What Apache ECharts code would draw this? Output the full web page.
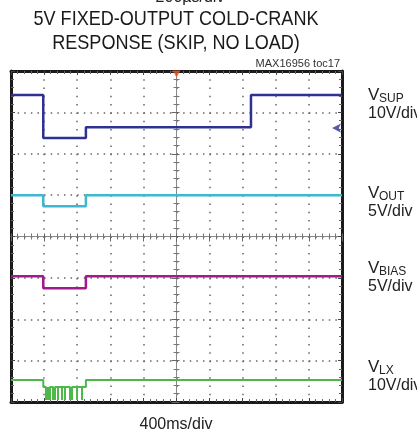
<!DOCTYPE html>
<html>
<head>
<meta charset="utf-8">
<title>MAX16956 toc17</title>
<script src="https://cdn.jsdelivr.net/npm/echarts@6/dist/echarts.min.js"></script>
<style>
  html, body { margin: 0; padding: 0; background: #fff; }
  #chart { width: 417px; height: 436px; }
</style>
</head>
<body>
<div id="chart"></div>
<script>
  // time in ms (400ms/div, 10 div), level in divisions from bottom (8 div)
  var vsupT   = [0, 390, 390, 905, 905, 2900, 2900, 4000];
  var vsupDiv = [7.42, 7.42, 6.38, 6.38, 6.64, 6.64, 7.42, 7.42];

  var voutT   = [0, 390, 390, 905, 905, 4000];
  var voutDiv = [5.0, 5.0, 4.73, 4.73, 5.0, 5.0];

  var vbiasT   = [0, 390, 390, 905, 905, 4000];
  var vbiasDiv = [3.04, 3.04, 2.75, 2.75, 3.04, 3.04];

  var vlxT   = [0, 390, 390, 905, 905, 4000];
  var vlxDiv = [0.53, 0.53, 0.36, 0.36, 0.53, 0.53];
  // switching pulses during the dip
  var vlxSpikeT = [423, 447, 471, 508, 532, 568, 616, 653, 713, 737, 798, 858];
  var vlxSpikeBottom = 0.05;

  var rightLabels = [
    { name: 'V', sub: 'SUP', scale: '10V/div', y: 95 },
    { name: 'V', sub: 'OUT', scale: '5V/div', y: 193 },
    { name: 'V', sub: 'BIAS', scale: '5V/div', y: 268 },
    { name: 'V', sub: 'LX', scale: '10V/div', y: 367 }
  ];

  var FONT = '"Liberation Sans", Arial, sans-serif';

  function pairs(t, v) {
    var out = [];
    for (var i = 0; i < t.length; i++) out.push([t[i], v[i]]);
    return out;
  }

  var vlxData = [];
  vlxSpikeT.forEach(function (t) {
    vlxData.push([t, vlxDiv[2]]);
    vlxData.push([t, vlxSpikeBottom]);
    vlxData.push([t, vlxDiv[2]]);
  });
  var vlxLine = pairs(vlxT, vlxDiv);
  // merge spikes into the low segment
  var vlxAll = vlxLine.slice(0, 3).concat(vlxData).concat(vlxLine.slice(3));

  var gridW = 331, gridH = 331;

  var graphic = [
    { type: 'text', x: 190, y: -2, style: { text: '200\u00b5s/div', font: '16px ' + FONT, fill: '#222', align: 'center', verticalAlign: 'middle' } },
    { type: 'text', x: 176, y: 19, scaleX: 0.86, style: { text: '5V FIXED-OUTPUT COLD-CRANK', font: '21px ' + FONT, fill: '#1a1a1a', align: 'center', verticalAlign: 'middle' } },
    { type: 'text', x: 176, y: 43, scaleX: 0.86, style: { text: 'RESPONSE (SKIP, NO LOAD)', font: '21px ' + FONT, fill: '#1a1a1a', align: 'center', verticalAlign: 'middle' } },
    { type: 'text', x: 340, y: 64, style: { text: 'MAX16956 toc17', font: '11px ' + FONT, fill: '#333', align: 'right', verticalAlign: 'middle' } },
    { type: 'text', x: 176, y: 425, style: { text: '400ms/div', font: '16px ' + FONT, fill: '#222', align: 'center', verticalAlign: 'middle' } }
  ];
  rightLabels.forEach(function (l) {
    graphic.push({ type: 'text', x: 368, y: l.y, style: { text: l.name, font: '17px ' + FONT, fill: '#222', align: 'left', verticalAlign: 'middle' } });
    graphic.push({ type: 'text', x: 379, y: l.y + 4, style: { text: l.sub, font: '12px ' + FONT, fill: '#222', align: 'left', verticalAlign: 'middle' } });
    graphic.push({ type: 'text', x: 368, y: l.y + 19, style: { text: l.scale, font: '16px ' + FONT, fill: '#222', align: 'left', verticalAlign: 'middle' } });
  });

  function borderAxis(pos, isX) {
    return {
      type: 'value', position: pos, min: 0, max: isX ? 4000 : 8, interval: isX ? 400 : 1,
      axisLine: { show: true, onZero: false, lineStyle: { color: '#1a1a1a', width: 3 } },
      axisTick: { show: true, inside: true, length: 4, lineStyle: { color: '#444', width: 1 } },
      minorTick: { show: true, splitNumber: 5, length: 3, lineStyle: { color: '#666', width: 1 } },
      axisLabel: { show: false },
      splitLine: { show: false }
    };
  }

  var xMain = borderAxis('bottom', true);
  xMain.splitLine = { show: true, lineStyle: { color: '#666', width: 1.5, type: [1.5, gridH / 40 - 1.5] } };
  var yMain = borderAxis('left', false);
  yMain.splitLine = { show: true, lineStyle: { color: '#666', width: 1.5, type: [1.5, gridW / 50 - 1.5] } };

  // centre cross lines with tick marks
  function centreLine(pos, isX, off) {
    return {
      type: 'value', position: pos, offset: off, min: 0, max: isX ? 4000 : 8, interval: isX ? 400 : 1,
      axisLine: { show: true, onZero: false, lineStyle: { color: '#888', width: 1 } },
      axisTick: { show: false }, axisLabel: { show: false }, splitLine: { show: false }
    };
  }
  function centreTicks(pos, isX, off) {
    return {
      type: 'value', position: pos, offset: off, min: 0, max: isX ? 4000 : 8, interval: isX ? 400 : 1,
      axisLine: { show: false, onZero: false },
      axisTick: { show: true, length: 8, lineStyle: { color: '#666', width: 1 } },
      minorTick: { show: true, splitNumber: 5, length: 6, lineStyle: { color: '#777', width: 1 } },
      axisLabel: { show: false }, splitLine: { show: false }
    };
  }

  var option = {
    animation: false,
    backgroundColor: '#fff',
    graphic: graphic,
    grid: { left: 11, top: 71, width: gridW, height: gridH },
    xAxis: [
      xMain,
      borderAxis('top', true),
      centreLine('bottom', true, -gridH / 2),
      centreTicks('bottom', true, -gridH / 2 - 3)
    ],
    yAxis: [
      yMain,
      borderAxis('right', false),
      centreLine('left', false, -gridW / 2),
      centreTicks('left', false, -gridW / 2 - 3)
    ],
    series: [
      { name: 'VSUP', type: 'line', data: pairs(vsupT, vsupDiv), symbol: 'none', lineStyle: { color: '#2e3192', width: 2.5 } },
      { name: 'VOUT', type: 'line', data: pairs(voutT, voutDiv), symbol: 'none', lineStyle: { color: '#3cb9cf', width: 2.5 } },
      { name: 'VBIAS', type: 'line', data: pairs(vbiasT, vbiasDiv), symbol: 'none', lineStyle: { color: '#a2198d', width: 2.5 } },
      { name: 'VLX', type: 'line', data: vlxAll, symbol: 'none', lineStyle: { color: '#4db848', width: 2 } },
      // trigger marker (top) and VSUP ground marker (right)
      { type: 'scatter', clip: false, data: [[2000, 8]], symbol: 'triangle', symbolRotate: 180, symbolSize: [8, 7], symbolOffset: [0, 3], itemStyle: { color: '#e8501e' } },
      { type: 'scatter', clip: false, data: [[3880, 6.62]], symbol: 'arrow', symbolRotate: 90, symbolSize: [7, 9], itemStyle: { color: '#2e3192' } }
    ]
  };

  var getchart = echarts.init(document.getElementById('chart'));
  getchart.setOption(option);

  window.addEventListener('resize', function () {
    getchart.resize();
  });
</script>
</body>
</html>
